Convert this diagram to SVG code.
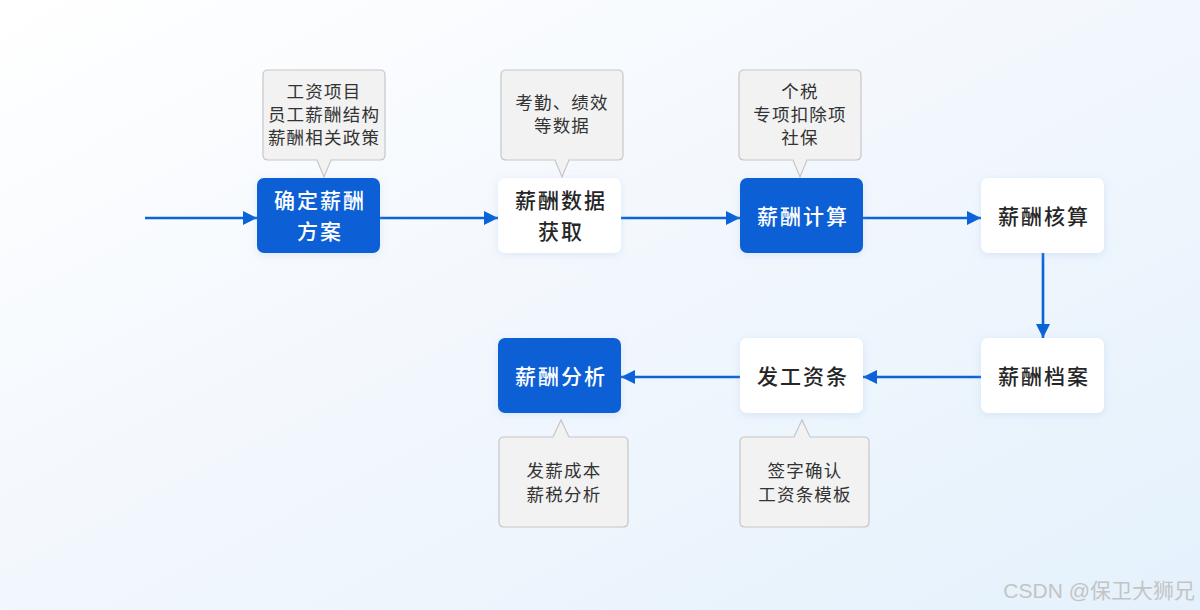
<svg xmlns="http://www.w3.org/2000/svg" width="1200" height="610" viewBox="0 0 1200 610">
<defs>
<linearGradient id="bg" x1="0" y1="0" x2="1" y2="1">
<stop offset="0" stop-color="#ffffff"/>
<stop offset="0.5" stop-color="#f2f7fd"/>
<stop offset="1" stop-color="#e4f1fc"/>
</linearGradient>
<filter id="sh" x="-20%" y="-20%" width="140%" height="150%">
<feDropShadow dx="0" dy="2" stdDeviation="4" flood-color="#8fb4dc" flood-opacity="0.25"/>
</filter>
<marker id="ah" viewBox="0 0 10 10" refX="10" refY="5" markerWidth="14" markerHeight="14" markerUnits="userSpaceOnUse" orient="auto">
<path d="M0,0 L10,5 L0,10 z" fill="#0a63d8"/>
</marker>
<style>
.blue{fill:#0a5fd6;}
.white{fill:#ffffff;}
.nt{font-family:"Noto Sans CJK SC","Noto Sans",sans-serif;font-size:21px;font-weight:500;text-anchor:middle;letter-spacing:2px;}
.nw{fill:#ffffff;}
.nd{fill:#262626;}
.co{fill:#f2f2f2;stroke:#c6c6c6;stroke-width:1.2;}
.ct{font-family:"Noto Sans CJK SC","Noto Sans",sans-serif;font-size:17.5px;fill:#333333;text-anchor:middle;letter-spacing:1.2px;}
.ln{stroke:#0a63d8;stroke-width:2.6;fill:none;}
</style>
</defs>
<rect width="1200" height="610" fill="url(#bg)"/>

<g id="connectors">
<line class="ln" x1="145" y1="218" x2="257" y2="218" marker-end="url(#ah)"/>
<line class="ln" x1="380" y1="218" x2="498" y2="218" marker-end="url(#ah)"/>
<line class="ln" x1="621" y1="218" x2="740" y2="218" marker-end="url(#ah)"/>
<line class="ln" x1="863" y1="218" x2="981" y2="218" marker-end="url(#ah)"/>
<line class="ln" x1="1043" y1="253" x2="1043" y2="338" marker-end="url(#ah)"/>
<line class="ln" x1="981" y1="377" x2="863" y2="377" marker-end="url(#ah)"/>
<line class="ln" x1="740" y1="377" x2="621" y2="377" marker-end="url(#ah)"/>
</g>

<g id="callout1">
<path class="co" d="M268,70 H380 Q385,70 385,75 V155 Q385,160 380,160 H331 L324,177 L317,160 H268 Q263,160 263,155 V75 Q263,70 268,70 Z"/>
<text class="ct" x="324" y="98">工资项目</text>
<text class="ct" x="324" y="121">员工薪酬结构</text>
<text class="ct" x="324" y="144">薪酬相关政策</text>
</g>
<g id="callout2">
<path class="co" d="M506,70 H618 Q623,70 623,75 V155 Q623,160 618,160 H569 L562,177 L555,160 H506 Q501,160 501,155 V75 Q501,70 506,70 Z"/>
<text class="ct" x="562" y="109">考勤、绩效</text>
<text class="ct" x="562" y="132">等数据</text>
</g>
<g id="callout3">
<path class="co" d="M744,70 H856 Q861,70 861,75 V155 Q861,160 856,160 H807 L800,177 L793,160 H744 Q739,160 739,155 V75 Q739,70 744,70 Z"/>
<text class="ct" x="800" y="98">个税</text>
<text class="ct" x="800" y="121">专项扣除项</text>
<text class="ct" x="800" y="144">社保</text>
</g>
<g id="callout7">
<path class="co" d="M504,437 H553 L561,420 L569,437 H623 Q628,437 628,442 V522 Q628,527 623,527 H504 Q499,527 499,522 V442 Q499,437 504,437 Z"/>
<text class="ct" x="564" y="477">发薪成本</text>
<text class="ct" x="564" y="501">薪税分析</text>
</g>
<g id="callout6">
<path class="co" d="M745,437 H794 L802,420 L810,437 H864 Q869,437 869,442 V522 Q869,527 864,527 H745 Q740,527 740,522 V442 Q740,437 745,437 Z"/>
<text class="ct" x="805" y="477">签字确认</text>
<text class="ct" x="805" y="501">工资条模板</text>
</g>

<g id="node1">
<rect class="blue" x="257" y="178" width="123" height="75" rx="7" filter="url(#sh)"/>
<text class="nt nw" x="320" y="208">确定薪酬</text>
<text class="nt nw" x="320" y="239">方案</text>
</g>
<g id="node2">
<rect class="white" x="498" y="178" width="123" height="75" rx="7" filter="url(#sh)"/>
<text class="nt nd" x="561" y="208">薪酬数据</text>
<text class="nt nd" x="561" y="239">获取</text>
</g>
<g id="node3">
<rect class="blue" x="740" y="178" width="123" height="75" rx="7" filter="url(#sh)"/>
<text class="nt nw" x="803" y="224">薪酬计算</text>
</g>
<g id="node4">
<rect class="white" x="981" y="178" width="123" height="75" rx="7" filter="url(#sh)"/>
<text class="nt nd" x="1044" y="224">薪酬核算</text>
</g>
<g id="node5">
<rect class="white" x="981" y="338" width="123" height="75" rx="7" filter="url(#sh)"/>
<text class="nt nd" x="1044" y="384">薪酬档案</text>
</g>
<g id="node6">
<rect class="white" x="740" y="338" width="123" height="75" rx="7" filter="url(#sh)"/>
<text class="nt nd" x="803" y="384">发工资条</text>
</g>
<g id="node7">
<rect class="blue" x="498" y="338" width="123" height="75" rx="7" filter="url(#sh)"/>
<text class="nt nw" x="561" y="384">薪酬分析</text>
</g>

<text x="1195" y="598" font-family="'Liberation Sans','Noto Sans CJK SC',sans-serif" font-size="21" fill="#c4c4c4" text-anchor="end">CSDN @保卫大狮兄</text>
</svg>
